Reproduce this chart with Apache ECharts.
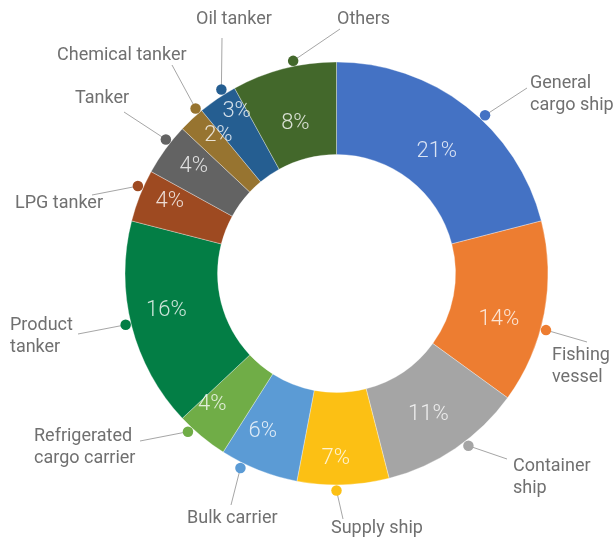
<!DOCTYPE html>
<html>
<head>
<meta charset="utf-8">
<script src="https://cdn.jsdelivr.net/npm/echarts@6/dist/echarts.min.js"></script>
<style>
  html, body { margin: 0; padding: 0; background: #ffffff; }
  #chart { width: 616px; height: 539px; }
</style>
</head>
<body>
<div id="chart"></div>
<script>
// Ship types and their share of the fleet (%), clockwise from 12 o'clock
const categories = [
  'General\ncargo ship', 'Fishing\nvessel', 'Container\nship', 'Supply ship',
  'Bulk carrier', 'Refrigerated\ncargo carrier', 'Product\ntanker', 'LPG tanker',
  'Tanker', 'Chemical tanker', 'Oil tanker', 'Others'
];
const shares = [21, 14, 11, 7, 6, 4, 16, 4, 4, 2, 3, 8];
const sliceColors = [
  '#4472c4', '#ed7d31', '#a5a5a5', '#fcc014', '#5b9bd5', '#70ad47',
  '#037e45', '#9e4a21', '#636363', '#977430', '#255e91', '#43682b'
];

// Ring geometry (px)
const CX = 336.5, CY = 273.5;
const R_IN = 119, R_OUT = 211.5, R_DOT = 217;
const R_PCT = (R_IN + R_OUT) / 2;

// Where each callout text sits and where its leader line stops
const labelPlacement = [
  { x: 530, y: 94.5, end: [527, 88] },
  { x: 552, y: 366, end: [587, 342] },
  { x: 513, y: 477, end: [507, 459] },
  { x: 331, y: 528, end: [343, 519] },
  { x: 187, y: 518, end: [231, 505] },
  { x: 34, y: 447.5, end: [140, 441] },
  { x: 10, y: 336, end: [78, 334] },
  { x: 15, y: 203, end: [92, 195] },
  { x: 75, y: 98, end: [124, 112] },
  { x: 57, y: 55, end: [172, 65] },
  { x: 196, y: 19.5, end: [222, 38] },
  { x: 337, y: 19.5, end: [340, 29] }
];
// Small along-the-ring shift of each callout dot (in % units)
const dotShift = [1.5, 1.2, -0.9, 0.5, 1.3, 1.0, 0.2, 0.6, 0.6, 0.75, 0.6, 0.8];
// Pixel nudge of each percentage label from the ring's mid-line
const pctNudge = [
  [-1, 9], [0, 15], [-1, 4], [-6, 20], [-13, 4], [-19, 4],
  [-10, -4], [-13, -11], [-9, -10], [-5, -18], [-7, -25], [0, 10]
];

const total = shares.reduce((s, v) => s + v, 0);
const midValue = shares.map((v, i) => shares.slice(0, i).reduce((s, w) => s + w, 0) + v / 2);
const dotValue = midValue.map((m, i) => m + dotShift[i]);

function angleRad(value) {
  return (90 - value / total * 360) * Math.PI / 180;
}

const FONT = 'Roboto, "Noto Sans", sans-serif';
const hidden = {
  axisLine: { show: false }, axisTick: { show: false },
  axisLabel: { show: false }, splitLine: { show: false }
};

const chart = echarts.init(document.getElementById('chart'), null, { renderer: 'canvas' });
chart.setOption({
  animation: false,
  backgroundColor: '#ffffff',
  polar: { center: [CX, CY], radius: R_DOT },
  angleAxis: Object.assign({ type: 'value', min: 0, max: total, startAngle: 90, clockwise: true }, hidden),
  radiusAxis: Object.assign({ type: 'value', min: 0, max: R_DOT }, hidden),
  series: [
    {
      // coloured ring
      type: 'pie',
      center: [CX, CY],
      radius: [R_IN, R_OUT],
      startAngle: 90,
      clockwise: true,
      silent: true,
      data: categories.map((name, i) => ({
        name: name, value: shares[i], itemStyle: { color: sliceColors[i] }
      })),
      itemStyle: { borderColor: 'rgba(255,255,255,0.55)', borderWidth: 0.6 },
      label: { show: false },
      labelLine: { show: false }
    },
    {
      // category callouts with leader lines
      type: 'pie',
      center: [CX, CY],
      radius: [R_IN, R_OUT],
      startAngle: 90,
      clockwise: true,
      silent: true,
      data: categories.map((name, i) => ({ name: name, value: shares[i] })),
      itemStyle: { color: 'rgba(0,0,0,0)', borderWidth: 0 },
      label: {
        show: true,
        position: 'outside',
        formatter: '{b}',
        color: '#707070',
        fontFamily: FONT,
        fontSize: 18,
        lineHeight: 22,
        overflow: 'none'
      },
      labelLine: {
        show: true,
        lineStyle: { color: '#a6a6a6', width: 1 }
      },
      labelLayout: function (p) {
        const place = labelPlacement[p.dataIndex];
        const a = angleRad(dotValue[p.dataIndex]);
        const start = [CX + R_DOT * Math.cos(a), CY - R_DOT * Math.sin(a)];
        return {
          x: place.x,
          y: place.y,
          align: 'left',
          verticalAlign: 'middle',
          labelLinePoints: [start, place.end]
        };
      }
    },
    {
      // percentage labels on the ring
      type: 'scatter',
      coordinateSystem: 'polar',
      silent: true,
      z: 4,
      symbolSize: 1,
      clip: false,
      itemStyle: { color: 'rgba(0,0,0,0)' },
      label: {
        show: true,
        position: 'inside',
        color: '#ffffff',
        fontFamily: FONT,
        fontWeight: 300,
        fontSize: 22,
        formatter: p => p.value[2] + '%'
      },
      data: shares.map((v, i) => ({
        value: [R_PCT, midValue[i], v],
        label: { offset: pctNudge[i] }
      }))
    },
    {
      // dots where each leader line meets the ring
      type: 'scatter',
      coordinateSystem: 'polar',
      silent: true,
      z: 5,
      symbol: 'circle',
      symbolSize: 10.5,
      clip: false,
      data: shares.map((v, i) => ({
        value: [R_DOT, dotValue[i]],
        itemStyle: { color: sliceColors[i], opacity: 1 }
      }))
    }
  ]
});
</script>
</body>
</html>
